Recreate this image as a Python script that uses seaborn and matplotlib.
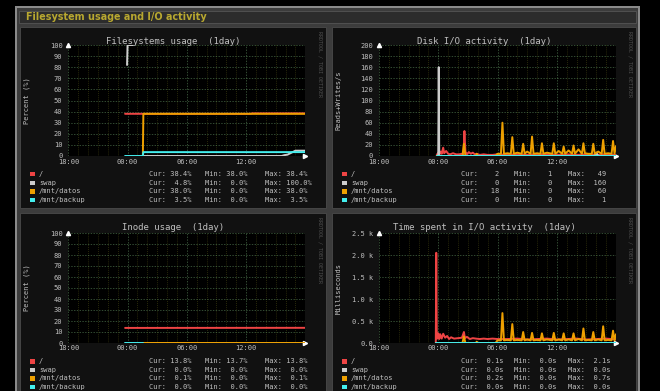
import numpy as np
import pandas as pd
import matplotlib
matplotlib.use('Agg')
import matplotlib.pyplot as plt
import seaborn as sns
from matplotlib.patches import Rectangle

# time axis: hours since 18:00 of the previous day (1 day graph)
hour_ticks = [0, 6, 12, 18]
hour_labels = ['18:00', '00:00', '06:00', '12:00']
fs_names = ['/', 'swap', '/mnt/datos', '/mnt/backup']
fs_colors = ['#EE4444', '#CCCCCC', '#EEA000', '#44EEEE']

# Filesystems usage (%)
usage_root_t = [5.75, 18.5, 18.6, 24.0]
usage_root_v = [38.0, 38.0, 38.4, 38.4]
usage_swap_t = [5.95, 6.0, 6.55]
usage_swap_v = [82.0, 100.0, 100.0]
usage_swap2_t = [7.6, 21.6, 21.9, 22.2, 22.6, 23.0, 24.0]
usage_swap2_v = [0.0, 0.0, 0.8, 1.2, 3.0, 4.8, 4.8]
usage_datos_t = [7.55, 7.6, 24.0]
usage_datos_v = [0.0, 38.0, 38.0]
usage_backup_t = [5.75, 7.55, 7.6, 24.0]
usage_backup_v = [0.0, 0.0, 3.5, 3.5]
usage_cur = [38.4, 4.8, 38.0, 3.5]
usage_min = [38.0, 0.0, 0.0, 0.0]
usage_max = [38.4, 100.0, 38.0, 3.5]

# Disk I/O activity (reads+writes/s)
io_root_t = [5.85, 6.0, 6.1, 6.25, 6.35, 6.5, 6.6, 6.8, 7.0, 7.2, 7.5, 7.8, 8.1, 8.4,
             8.55, 8.65, 8.75, 8.9, 9.1, 9.3, 9.5, 9.7, 9.9, 10.2, 10.6, 11.0, 11.5,
             12.0, 13.0, 14.0, 15.0, 16.0, 17.0, 18.0, 19.0, 20.0, 21.0, 22.0, 23.0, 24.0]
io_root_v = [2, 6, 3, 8, 4, 15, 5, 9, 4, 3, 5, 3, 3, 4,
             2, 45, 8, 3, 7, 4, 6, 3, 4, 2, 3, 2, 2,
             3, 2, 3, 2, 3, 3, 2, 3, 2, 3, 2, 3, 2]
io_swap_t = [5.85, 6.0, 6.05, 6.1, 6.2, 21.8, 22.0, 22.2, 24.0]
io_swap_v = [0, 0, 160, 0, 0, 0, 6, 0, 0]
datos_t = [5.85, 8.45, 8.6, 8.75, 9.8, 9.9, 10.0, 11.8, 12.0,
           12.35, 12.5, 12.65, 13.0, 13.35, 13.5, 13.65, 14.0,
           14.45, 14.6, 14.75, 15.0, 15.35, 15.5, 15.65, 16.0,
           16.35, 16.5, 16.65, 17.0, 17.55, 17.7, 17.85, 18.2,
           18.55, 18.7, 18.85, 19.2, 19.55, 19.7, 19.85, 20.2,
           20.55, 20.7, 20.85, 21.2, 21.55, 21.7, 21.85, 22.2,
           22.55, 22.7, 22.85, 23.2, 23.55, 23.7, 23.85, 24.0]
io_datos_v = [0, 0, 22, 0, 0, 4, 0, 0, 4,
              4, 60, 4, 5, 4, 34, 4, 6,
              4, 22, 4, 8, 4, 35, 4, 5,
              4, 23, 4, 6, 4, 23, 4, 9,
              4, 17, 4, 10, 4, 19, 4, 12,
              4, 23, 5, 4, 4, 22, 4, 8,
              4, 29, 4, 5, 4, 27, 4, 18]
io_backup_t = [5.85, 24.0]
io_backup_v = [0, 0]
io_cur = [2, 0, 18, 0]
io_min = [1, 0, 0, 0]
io_max = [49, 160, 60, 1]

# Inode usage (%)
inode_root_t = [5.75, 24.0]
inode_root_v = [13.7, 13.8]
inode_swap_t = [7.6, 24.0]
inode_swap_v = [0.0, 0.0]
inode_datos_t = [7.6, 24.0]
inode_datos_v = [0.1, 0.1]
inode_backup_t = [5.75, 7.6]
inode_backup_v = [0.0, 0.0]
inode_cur = [13.8, 0.0, 0.1, 0.0]
inode_min = [13.7, 0.0, 0.0, 0.0]
inode_max = [13.8, 0.0, 0.1, 0.0]

# Time spent in I/O activity (ms)
ms_root_t = [5.75, 5.8, 5.85, 5.9, 6.0, 6.1, 6.2, 6.35, 6.5, 6.7, 6.9, 7.1, 7.3, 7.6,
             8.0, 8.4, 8.6, 8.7, 8.9, 9.2, 9.5, 9.8, 10.2, 10.6, 11.0, 11.5, 12.0,
             13.0, 14.0, 15.0, 16.0, 17.0, 18.0, 19.0, 20.0, 21.0, 22.0, 23.0, 24.0]
ms_root_v = [0, 2050, 200, 100, 220, 90, 200, 100, 210, 120, 160, 90, 130, 100,
             110, 120, 250, 110, 140, 90, 110, 100, 90, 100, 90, 100, 90,
             90, 100, 80, 90, 100, 80, 90, 100, 80, 90, 100, 80]
ms_swap_t = [5.75, 24.0]
ms_swap_v = [0, 0]
ms_datos_v = [0, 0, 150, 0, 0, 30, 0, 0, 60,
              60, 680, 60, 70, 60, 430, 60, 70,
              60, 250, 60, 80, 60, 230, 60, 70,
              60, 220, 60, 80, 60, 230, 60, 80,
              60, 220, 60, 80, 60, 220, 60, 90,
              60, 330, 60, 70, 60, 250, 60, 80,
              60, 380, 60, 70, 60, 280, 60, 200]
ms_backup_t = [5.75, 24.0]
ms_backup_v = [0, 0]
ms_cur = [0.1, 0.0, 0.2, 0.0]
ms_min = [0.0, 0.0, 0.0, 0.0]
ms_max = [2.1, 0.0, 0.7, 0.0]

sns.set_style('dark')
plt.rcParams['font.family'] = ['DejaVu Sans Mono']

W, H = 660, 391
fig = plt.figure(figsize=(6.6, 3.91), dpi=100)
fig.patch.set_facecolor('black')
TXT = '#C0C0C0'


def box(x0, y0, x1, y1, fc, ec='none', lw=0):
    fig.add_artist(Rectangle((x0 / W, 1 - y1 / H), (x1 - x0) / W, (y1 - y0) / H,
                             transform=fig.transFigure, facecolor=fc,
                             edgecolor=ec, linewidth=lw, zorder=0))


def ftext(x, y, s, **kw):
    fig.text(x / W, 1 - y / H, s, **kw)


# outer frame, title bar and panel backgrounds
box(15, 6, 640, 395, '#8a8a8a')
box(17, 8, 638, 395, '#3c3c3c')
box(19, 11, 636, 23, '#2c2c2c', ec='#555555', lw=0.6)
ftext(26, 17.2, 'Filesystem usage and I/O activity', family='DejaVu Sans',
      weight='bold', size=6.9, color='#B8A830', va='center')
panels = [(20, 27, 326, 208), (332, 27, 636, 208), (20, 213, 326, 395), (332, 213, 636, 395)]
for p in panels:
    box(*p, '#111111', ec='#4a4a4a', lw=0.6)


def draw(rect, series, ymax, yticks, ylabels, title, ylabel, panel, cur, mn, mx, fmt, cols):
    x0, y0, x1, y1 = rect
    ax = fig.add_axes([x0 / W, 1 - y1 / H, (x1 - x0) / W, (y1 - y0) / H])
    ax.set_facecolor('black')
    for t, v, c in series:
        df = pd.DataFrame({'t': t, 'v': v})
        sns.lineplot(data=df, x='t', y='v', ax=ax, color=c, linewidth=1.4,
                     estimator=None, sort=False, zorder=3)
    ax.set_xlim(0, 24)
    ax.set_ylim(0, ymax)
    ax.set_xticks(hour_ticks)
    ax.set_xticklabels(hour_labels)
    ax.set_xticks(range(0, 25), minor=True)
    ax.set_yticks(yticks)
    ax.set_yticklabels(ylabels)
    ax.grid(which='major', color='#80C080', alpha=0.55, ls=(0, (2, 2)), lw=0.5)
    ax.grid(which='minor', axis='x', color='#808020', alpha=0.6, ls=(0, (1, 2)), lw=0.5)
    ax.tick_params(which='both', length=0, colors=TXT, labelsize=5)
    ax.tick_params(axis='x', pad=1.8)
    ax.tick_params(axis='y', pad=4.2)
    ax.set_xlabel('')
    ax.set_ylabel('')
    for s in ax.spines.values():
        s.set_visible(False)
    ax.plot([0], [1], marker='^', color='white', ms=3, transform=ax.transAxes, clip_on=False)
    ax.plot([1], [0], marker='>', color='white', ms=3, transform=ax.transAxes, clip_on=False)

    px0, py0, px1, py1 = panel
    ftext((px0 + px1) / 2, py0 + 14, title, ha='center', va='center', size=6.5, color=TXT)
    ftext(px0 + 7, (y0 + y1) / 2, ylabel, rotation=90, ha='center', va='center', size=5, color=TXT)
    ftext(px1 - 6, py0 + 37, 'RRDTOOL / TOBI OETIKER', rotation=270, ha='center',
          va='center', size=3.6, color='#505050')
    # legend
    for i, name in enumerate(fs_names):
        ry = y1 + 18 + i * 8.65
        box(px0 + 10, ry - 2, px0 + 14.5, ry + 2.5, fs_colors[i])
        ftext(px0 + 19, ry, name, va='center', size=5, color=TXT)
        ftext(px0 + cols[0], ry, 'Cur: ' + fmt(cur[i]), va='center', size=5, color=TXT)
        ftext(px0 + cols[1], ry, 'Min: ' + fmt(mn[i]), va='center', size=5, color=TXT)
        ftext(px0 + cols[2], ry, 'Max: ' + fmt(mx[i]), va='center', size=5, color=TXT)


pct = lambda v: '%4.1f%%' % v
draw((68.3, 45, 305.3, 156),
     [(usage_root_t, usage_root_v, fs_colors[0]),
      (usage_swap_t, usage_swap_v, fs_colors[1]),
      (usage_swap2_t, usage_swap2_v, fs_colors[1]),
      (usage_datos_t, usage_datos_v, fs_colors[2]),
      (usage_backup_t, usage_backup_v, fs_colors[3])],
     100, list(range(0, 101, 10)), [str(v) for v in range(0, 101, 10)],
     'Filesystems usage  (1day)', 'Percent (%)', panels[0],
     usage_cur, usage_min, usage_max, pct, (129, 185, 245))

draw((379, 45, 616, 156),
     [(io_root_t, io_root_v, fs_colors[0]),
      (io_swap_t, io_swap_v, fs_colors[1]),
      (datos_t, io_datos_v, fs_colors[2]),
      (io_backup_t, io_backup_v, fs_colors[3])],
     200, list(range(0, 201, 20)), [str(v) for v in range(0, 201, 20)],
     'Disk I/O activity  (1day)', 'Reads+Writes/s', panels[1],
     io_cur, io_min, io_max, lambda v: '%4d' % v, (129, 182, 236))

draw((68.3, 233, 305.3, 343),
     [(inode_root_t, inode_root_v, fs_colors[0]),
      (inode_swap_t, inode_swap_v, fs_colors[1]),
      (inode_datos_t, inode_datos_v, fs_colors[2]),
      (inode_backup_t, inode_backup_v, fs_colors[3])],
     100, list(range(0, 101, 10)), [str(v) for v in range(0, 101, 10)],
     'Inode usage  (1day)', 'Percent (%)', panels[2],
     inode_cur, inode_min, inode_max, pct, (129, 185, 245))

draw((379, 233, 616, 343),
     [(ms_root_t, ms_root_v, fs_colors[0]),
      (ms_swap_t, ms_swap_v, fs_colors[1]),
      (datos_t, ms_datos_v, fs_colors[2]),
      (ms_backup_t, ms_backup_v, fs_colors[3])],
     2500, [0, 500, 1000, 1500, 2000, 2500], ['0.0', '0.5 k', '1.0 k', '1.5 k', '2.0 k', '2.5 k'],
     'Time spent in I/O activity  (1day)', 'Milliseconds', panels[3],
     ms_cur, ms_min, ms_max, lambda v: '%4.1fs' % v, (129, 182, 236))

fig.savefig('out.png', dpi=100, facecolor=fig.get_facecolor())
